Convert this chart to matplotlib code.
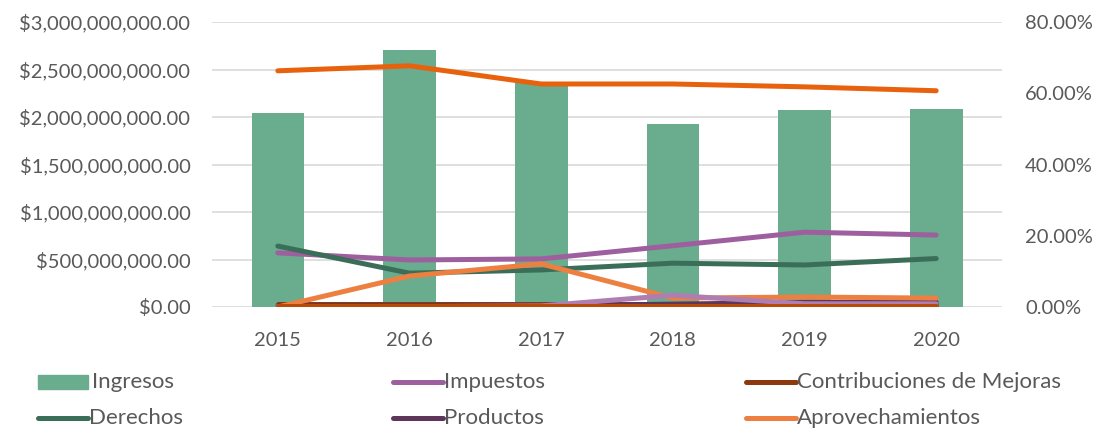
import matplotlib
matplotlib.use("Agg")
import matplotlib.pyplot as plt
from matplotlib.lines import Line2D
from matplotlib.patches import Rectangle
from matplotlib.ticker import FuncFormatter, MultipleLocator

plt.rcParams['font.family'] = ['Lato', 'DejaVu Sans']

years = ["2015", "2016", "2017", "2018", "2019", "2020"]

# Total revenue (left axis, pesos)
ingresos = [2.042e9, 2.705e9, 2.355e9, 1.926e9, 2.074e9, 2.084e9]

# Share of each revenue source (right axis, percent)
impuestos = [15.2, 13.2, 13.5, 17.2, 21.0, 20.2]
contribuciones = [0.9, 0.9, 0.9, 0.9, 0.9, 0.9]
derechos = [17.1, 9.5, 10.4, 12.3, 11.8, 13.6]
productos = [0.3, 0.3, 0.3, 0.8, 1.3, 1.3]
aprovechamientos = [0.0, 8.7, 12.1, 2.5, 2.8, 2.5]
otros_claro = [0.1, 0.1, 0.3, 3.3, 0.9, 0.9]
participaciones = [66.3, 67.7, 62.6, 62.6, 61.8, 60.7]
aportaciones = [0.2, 0.2, 0.2, 0.2, 0.2, 0.2]

GREY = "#595959"
C_ING = "#69AC8E"
C_IMP = "#9E5F9E"
C_CON = "#8B3A0E"
C_DER = "#3B6E58"
C_PRO = "#5E3659"
C_APR = "#ED8041"
C_OTR = "#B07DB0"
C_PAR = "#E8620E"
C_APO = "#B84A0A"

fig = plt.figure(figsize=(11.01, 4.30), dpi=100)
ax = fig.add_axes([212 / 1101, 1 - 307 / 430, 790 / 1101, 285 / 430])
ax2 = ax.twinx()

x = list(range(len(years)))
ax.bar(x, ingresos, width=0.4, color=C_ING, zorder=2)
ax.set_xlim(-0.5, len(years) - 0.5)
ax.set_ylim(0, 3e9)
ax.yaxis.set_major_locator(MultipleLocator(5e8))
ax.yaxis.set_major_formatter(FuncFormatter(lambda v, p: f"${v:,.2f}"))
ax.grid(axis='y', color="#D9D9D9", linewidth=1.2, zorder=0)
ax.set_axisbelow(True)
ax.set_xticks(x)
ax.set_xticklabels(years)

lw = 3.6
series = [
    (impuestos, C_IMP),
    (contribuciones, C_CON),
    (derechos, C_DER),
    (productos, C_PRO),
    (aprovechamientos, C_APR),
    (otros_claro, C_OTR),
    (participaciones, C_PAR),
    (aportaciones, C_APO),
]
for vals, col in series:
    ax2.plot(x, vals, color=col, linewidth=lw, solid_capstyle='round',
             solid_joinstyle='round')
ax2.set_ylim(0, 80)
ax2.yaxis.set_major_locator(MultipleLocator(20))
ax2.yaxis.set_major_formatter(FuncFormatter(lambda v, p: f"{v:.2f}%"))

for a in (ax, ax2):
    for s in a.spines.values():
        s.set_visible(False)
    a.tick_params(length=0, labelsize=14.5, colors=GREY)
ax.tick_params(axis='y', pad=15.5)
ax.tick_params(axis='x', pad=18)
ax2.tick_params(axis='y', pad=16.5)

# Legend laid out in a 3 x 2 grid below the plot
entries = [
    ("Ingresos", C_ING, 'patch', 38, 382),
    ("Impuestos", C_IMP, 'line', 390, 382),
    ("Contribuciones de Mejoras", C_CON, 'line', 743, 382),
    ("Derechos", C_DER, 'line', 35, 418),
    ("Productos", C_PRO, 'line', 390, 418),
    ("Aprovechamientos", C_APR, 'line', 743, 418),
]
W, H = 1101, 430
for label, col, kind, px, py in entries:
    if kind == 'patch':
        fig.patches.append(Rectangle((px / W, 1 - (py + 7) / H), 50 / W, 14 / H,
                                     transform=fig.transFigure, color=col))
    else:
        fig.lines.append(Line2D([(px + 3) / W, (px + 53) / W], [1 - py / H] * 2,
                                transform=fig.transFigure, color=col,
                                linewidth=lw, solid_capstyle='round'))
    fig.text((px + 54) / W, 1 - py / H, label, color=GREY, fontsize=16,
             va='center', ha='left')

fig.savefig("out.png", dpi=100)
